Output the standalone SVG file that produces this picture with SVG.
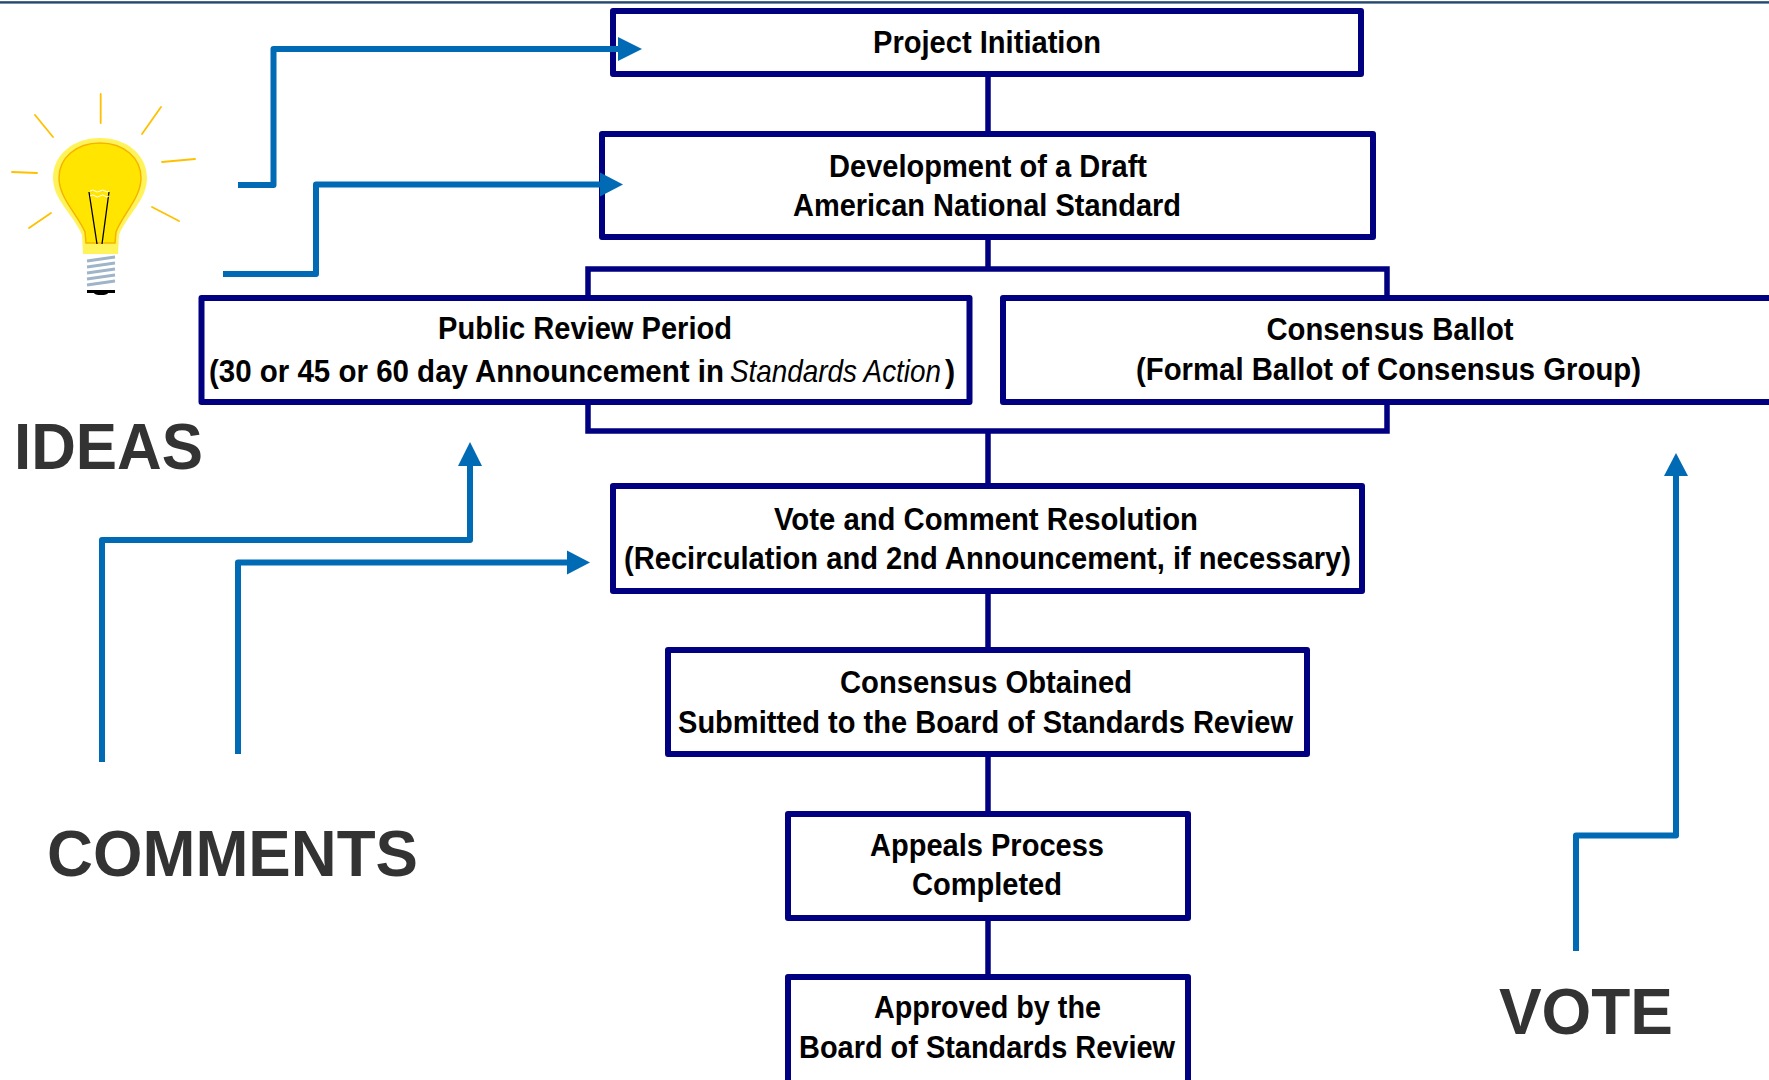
<svg xmlns="http://www.w3.org/2000/svg" width="1769" height="1080" viewBox="0 0 1769 1080">
<defs>
<style>
.box{fill:#ffffff;stroke:#000080;stroke-width:6;stroke-linejoin:round}
.link{fill:none;stroke:#000080;stroke-width:5.5}
.flow{fill:none;stroke:#006AB5;stroke-width:6;stroke-linejoin:round}
.head{fill:#006AB5}
.t{font-family:"Liberation Sans",Arial,Helvetica,sans-serif;font-weight:bold;font-size:30.5px;fill:#000000;text-anchor:middle}
.ts{font-family:"Liberation Sans",Arial,Helvetica,sans-serif;font-weight:bold;font-size:30.5px;fill:#000000}
.ti{font-style:italic;font-weight:normal}
.big{font-family:"Liberation Sans",Arial,Helvetica,sans-serif;font-weight:bold;font-size:65px;fill:#333333}
.ray{stroke:#FFC000;stroke-width:1.8;stroke-linecap:round}
.screw{stroke:#9FB4C8;stroke-width:3}
</style>
</defs>
<rect x="0" y="0" width="1769" height="1080" fill="#ffffff"/>
<rect x="0" y="1.2" width="1769" height="2.4" fill="#24466F"/>

<g id="bulb">
<line class="ray" x1="100.7" y1="94" x2="100.7" y2="123"/>
<line class="ray" x1="35" y1="115" x2="53" y2="137"/>
<line class="ray" x1="161" y1="107" x2="142" y2="134"/>
<line class="ray" x1="12" y1="172" x2="37" y2="173"/>
<line class="ray" x1="162" y1="162" x2="195" y2="159"/>
<line class="ray" x1="29" y1="228" x2="51" y2="213"/>
<line class="ray" x1="152" y1="207" x2="179" y2="221"/>
<path d="M100,138 C127,138 147,155 147,178 C147,200 127,215 119,235 L118,254 L83,254 L82,235 C74,215 53,200 53,178 C53,155 73,138 100,138 Z" fill="#FFF35A"/>
<path d="M100,143 C124,143 141,158 141,178 C141,198 122,215 116,232 L115,243 L86,243 L85,232 C78,215 59,198 59,178 C59,158 76,143 100,143 Z" fill="#FFE500" stroke="#F5B400" stroke-width="1.5"/>
<path d="M89,192 L97,244 M109,192 L102,244" stroke="#000000" stroke-width="1.3" fill="none"/>
<path d="M90,191 q3,-2 5,0 t5,0 t5,0 t4,0 M90,196 q3,-2 5,0 t5,0 t5,0 t4,0" stroke="#ffffff" stroke-width="1" fill="none"/>
<line class="screw" x1="87" y1="261" x2="115" y2="257"/>
<line class="screw" x1="87" y1="267" x2="115" y2="263"/>
<line class="screw" x1="87" y1="273" x2="115" y2="269"/>
<line class="screw" x1="87" y1="279" x2="115" y2="275"/>
<line class="screw" x1="87" y1="285" x2="115" y2="281"/>
<rect x="87" y="290" width="28" height="3" fill="#000000"/>
<ellipse cx="101" cy="293" rx="7" ry="2" fill="#000000"/>
</g>

<g id="label-ideas"><text class="big" x="14" y="469" textLength="189" lengthAdjust="spacingAndGlyphs">IDEAS</text></g>
<g id="label-comments"><text class="big" x="47" y="876" textLength="371" lengthAdjust="spacingAndGlyphs">COMMENTS</text></g>
<g id="label-vote"><text class="big" x="1499" y="1034" textLength="174" lengthAdjust="spacingAndGlyphs">VOTE</text></g>

<g id="project-initiation">
<rect class="box" x="613" y="11" width="748" height="63"/>
<text class="t" x="987" y="53" textLength="228" lengthAdjust="spacingAndGlyphs">Project Initiation</text>
</g>

<g id="draft-development">
<rect class="box" x="602" y="134" width="771" height="103"/>
<text class="t" x="988" y="177" textLength="318" lengthAdjust="spacingAndGlyphs">Development of a Draft</text>
<text class="t" x="987" y="216" textLength="388" lengthAdjust="spacingAndGlyphs">American National Standard</text>
</g>

<g id="public-review">
<rect class="box" x="201.5" y="298" width="768" height="104"/>
<text class="t" x="585" y="339" textLength="294" lengthAdjust="spacingAndGlyphs">Public Review Period</text>
<text class="ts" y="382"><tspan x="209" textLength="515" lengthAdjust="spacingAndGlyphs">(30 or 45 or 60 day Announcement in</tspan><tspan class="ti" x="730" textLength="211" lengthAdjust="spacingAndGlyphs">Standards Action</tspan><tspan x="945">)</tspan></text>
</g>

<g id="consensus-ballot">
<rect class="box" x="1003" y="298" width="800" height="104"/>
<text class="t" x="1390" y="340" textLength="247" lengthAdjust="spacingAndGlyphs">Consensus Ballot</text>
<text class="t" x="1388.5" y="380" textLength="505" lengthAdjust="spacingAndGlyphs">(Formal Ballot of Consensus Group)</text>
</g>

<g id="vote-comment-resolution">
<rect class="box" x="613" y="486" width="749" height="105"/>
<text class="t" x="986" y="530" textLength="424" lengthAdjust="spacingAndGlyphs">Vote and Comment Resolution</text>
<text class="t" x="987.5" y="569" textLength="727" lengthAdjust="spacingAndGlyphs">(Recirculation and 2nd Announcement, if necessary)</text>
</g>

<g id="consensus-obtained">
<rect class="box" x="668" y="650" width="639" height="104"/>
<text class="t" x="986" y="693" textLength="292" lengthAdjust="spacingAndGlyphs">Consensus Obtained</text>
<text class="t" x="985.5" y="733" textLength="615" lengthAdjust="spacingAndGlyphs">Submitted to the Board of Standards Review</text>
</g>

<g id="appeals">
<rect class="box" x="788" y="814" width="400" height="104"/>
<text class="t" x="987" y="856" textLength="234" lengthAdjust="spacingAndGlyphs">Appeals Process</text>
<text class="t" x="987" y="895" textLength="150" lengthAdjust="spacingAndGlyphs">Completed</text>
</g>

<g id="approved">
<rect class="box" x="788" y="977" width="400" height="120"/>
<text class="t" x="987.5" y="1018" textLength="227" lengthAdjust="spacingAndGlyphs">Approved by the</text>
<text class="t" x="987" y="1058" textLength="376" lengthAdjust="spacingAndGlyphs">Board of Standards Review</text>
</g>

<g id="connectors">
<path class="link" d="M988,74 V134"/>
<path class="link" d="M988,237 V269"/>
<path class="link" d="M588,298 V269 H1387 V298"/>
<path class="link" d="M588,402 V431 H1387 V402"/>
<path class="link" d="M988,431 V486"/>
<path class="link" d="M988,591 V650"/>
<path class="link" d="M988,754 V814"/>
<path class="link" d="M988,918 V977"/>

<path class="flow" d="M238,185 H273.5 V49 H619"/>
<polygon class="head" points="618,37 642,49 618,61"/>
<path class="flow" d="M223,274 H316 V184.5 H601"/>
<polygon class="head" points="600,172.5 623,184.5 600,196.5"/>
<path class="flow" d="M102,762 V540 H470 V465"/>
<polygon class="head" points="458,466 470,442 482,466"/>
<path class="flow" d="M238,754 V562.5 H568"/>
<polygon class="head" points="567,550.5 590,562.5 567,574.5"/>
<path class="flow" d="M1576,951 V835.5 H1676 V475"/>
<polygon class="head" points="1664,476 1676,453 1688,476"/>
</g>
</svg>
